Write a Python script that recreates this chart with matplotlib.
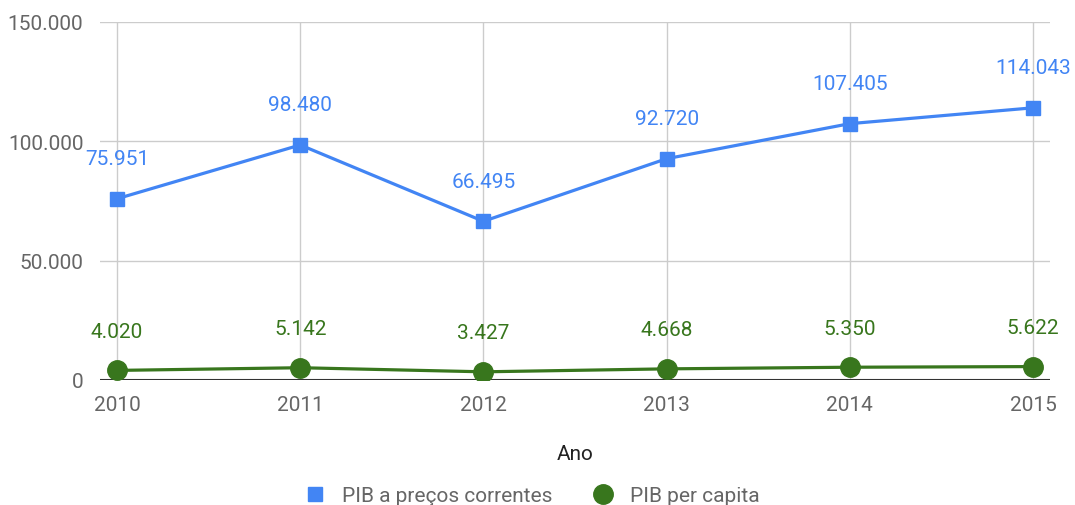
import matplotlib.pyplot as plt
from matplotlib.lines import Line2D

plt.rcParams['font.family'] = ['Roboto', 'DejaVu Sans']

anos = [2010, 2011, 2012, 2013, 2014, 2015]
pib_correntes = [75951, 98480, 66495, 92720, 107405, 114043]
pib_per_capita = [4020, 5142, 3427, 4668, 5350, 5622]
rotulos_correntes = ['75.951', '98.480', '66.495', '92.720', '107.405', '114.043']
rotulos_capita = ['4.020', '5.142', '3.427', '4.668', '5.350', '5.622']
y_ticks = [0, 50000, 100000, 150000]
y_labels = ['0', '50.000', '100.000', '150.000']

azul = '#4285f4'
verde = '#38761d'

fig = plt.figure(figsize=(10.75, 5.06), dpi=100)
ax = fig.add_axes([100 / 1075, 1 - 381 / 506, 950 / 1075, 358 / 506])

ax.plot(anos, pib_correntes, color=azul, lw=2.3, marker='s', ms=10, zorder=3)
ax.plot(anos, pib_per_capita, color=verde, lw=2.3, marker='o', ms=14, zorder=3)

for x, y, t in zip(anos, pib_correntes, rotulos_correntes):
    ax.annotate(t, (x, y), xytext=(0, 29), textcoords='offset points',
                ha='center', va='center', color=azul, fontsize=15)
for x, y, t in zip(anos, pib_per_capita, rotulos_capita):
    ax.annotate(t, (x, y), xytext=(0, 28), textcoords='offset points',
                ha='center', va='center', color=verde, fontsize=15)

ax.set_xlim(2010 - 0.093, 2015 + 0.093)
ax.set_ylim(0, 150000)
ax.set_xticks(anos)
ax.set_xticklabels([str(a) for a in anos])
ax.set_yticks(y_ticks)
ax.set_yticklabels(y_labels)
ax.tick_params(length=0, labelsize=15, colors='#666666')
ax.tick_params(axis='x', pad=11)
ax.tick_params(axis='y', pad=12)
ax.grid(True, color='#cccccc', lw=1)
ax.set_axisbelow(True)
for s in ax.spines.values():
    s.set_visible(False)
ax.axhline(0, color='#333333', lw=1.5, zorder=2)

fig.text(575 / 1075, 1 - 455 / 506, 'Ano', ha='center', va='center',
         fontsize=15, color='#222222')

handles = [
    Line2D([], [], color=azul, marker='s', ls='none', ms=10),
    Line2D([], [], color=verde, marker='o', ls='none', ms=14),
]
fig.legend(handles, ['PIB a preços correntes', 'PIB per capita'], ncol=2,
           loc='center', bbox_to_anchor=(527 / 1075, 1 - 497 / 506),
           frameon=False, fontsize=15, labelcolor='#666666',
           handletextpad=0.3, columnspacing=1.4)

fig.savefig('out.png', dpi=100)
